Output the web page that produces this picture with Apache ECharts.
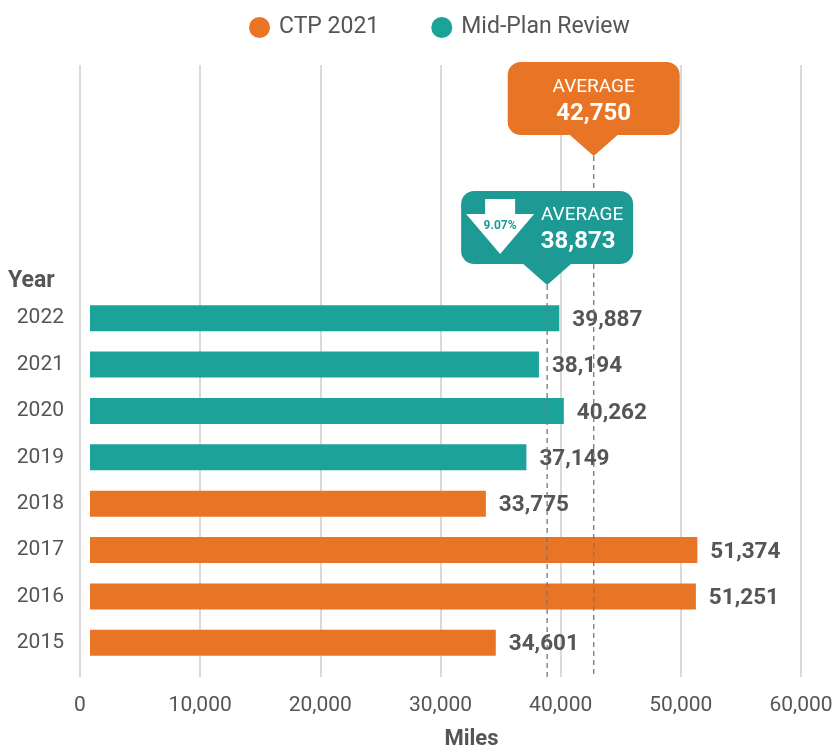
<!DOCTYPE html>
<html>
<head>
<meta charset="utf-8">
<script src="https://cdn.jsdelivr.net/npm/echarts@6/dist/echarts.min.js"></script>
<style>
  html, body { margin: 0; padding: 0; background: #fff; }
  #chart { width: 840px; height: 747px; }
</style>
</head>
<body>
<div id="chart"></div>
<script>
// Annual miles by year, split by plan source
const years = ['2015', '2016', '2017', '2018', '2019', '2020', '2021', '2022'];
const ctpYears = ['2015', '2016', '2017', '2018'];
const ctpValues = [34601, 51251, 51374, 33775];
const midYears = ['2019', '2020', '2021', '2022'];
const midValues = [37149, 40262, 38194, 39887];
const xTicks = { min: 0, max: 60000, interval: 10000 };

const ORANGE = '#E87425';
const TEAL = '#1BA39A';
const TEAL_DARK = '#1E9A95';
const GREY = '#555555';
const FONT = 'Roboto, "Noto Sans", sans-serif';

const mean = arr => arr.reduce((a, b) => a + b, 0) / arr.length;
const ctpAvg = Math.round(mean(ctpValues));
const midAvg = Math.round(mean(midValues));
const dropPct = ((ctpAvg - midAvg) / ctpAvg * 100).toFixed(2) + '%';
const fmt = v => v.toLocaleString('en-US');

// Bars start a little right of the zero line, ending at the value
function renderBar(params, api) {
  const val = api.value(0);
  const cat = api.value(1);
  const start = api.coord([0, cat]);
  const end = api.coord([val, cat]);
  const h = 26;
  const x0 = start[0] + 10;
  return {
    type: 'group',
    children: [
      {
        type: 'rect',
        shape: { x: x0, y: end[1] - h / 2, width: end[0] - x0, height: h },
        style: { fill: api.visual('color') }
      },
      {
        type: 'text',
        x: end[0] + 13,
        y: end[1] + 2,
        style: {
          text: fmt(val),
          fill: GREY,
          font: 'bold 22.5px ' + FONT,
          verticalAlign: 'middle',
          align: 'left'
        }
      }
    ]
  };
}

const chart = echarts.init(document.getElementById('chart'), null, { renderer: 'canvas' });

const option = {
  animation: false,
  backgroundColor: '#fff',
  textStyle: { fontFamily: FONT },
  legend: {
    top: 11,
    left: 244,
    itemWidth: 21,
    itemHeight: 21,
    itemGap: 52,
    icon: 'circle',
    textStyle: { fontSize: 23, color: GREY, fontFamily: FONT, padding: [0, 0, 0, 4] },
    data: ['CTP 2021', 'Mid-Plan Review']
  },
  grid: [
    { left: 80, right: 39, top: 65, bottom: 70, containLabel: false, outerBoundsMode: 'none' },
    { left: 80, right: 39, top: 295, bottom: 81, containLabel: false, outerBoundsMode: 'none' }
  ],
  xAxis: [
    {
      gridIndex: 0,
      type: 'value',
      min: xTicks.min, max: xTicks.max, interval: xTicks.interval,
      axisLine: { show: false },
      axisTick: { show: false },
      splitLine: { show: true, lineStyle: { color: '#DADADA', width: 2 } },
      axisLabel: {
        color: GREY, fontSize: 21, margin: 18, fontFamily: FONT,
        formatter: v => fmt(v)
      },
      name: 'Miles',
      nameLocation: 'middle',
      nameGap: 51,
      nameMoveOverlap: false,
      nameTextStyle: { color: GREY, fontSize: 22, fontWeight: 'bold', padding: [0, 0, 0, 62] }
    },
    {
      gridIndex: 1,
      type: 'value',
      min: xTicks.min, max: xTicks.max, interval: xTicks.interval,
      show: false
    }
  ],
  yAxis: [
    { gridIndex: 0, type: 'value', show: false, min: 0, max: 1 },
    {
      gridIndex: 1,
      type: 'category',
      data: years,
      axisLine: { show: false },
      axisTick: { show: false },
      axisLabel: { color: GREY, fontSize: 21, margin: 16, fontFamily: FONT },
      name: 'Year',
      nameLocation: 'end',
      nameGap: 0,
      nameMoveOverlap: false,
      nameTextStyle: {
        color: GREY, fontSize: 23, fontWeight: 'bold', align: 'left',
        padding: [0, 0, 2, -72]
      }
    }
  ],
  series: [
    {
      name: 'CTP 2021',
      type: 'custom',
      xAxisIndex: 1, yAxisIndex: 1,
      itemStyle: { color: ORANGE },
      encode: { x: 0, y: 1 },
      renderItem: renderBar,
      data: ctpValues.map((v, i) => [v, ctpYears[i]]),
      z: 2
    },
    {
      name: 'Mid-Plan Review',
      type: 'custom',
      xAxisIndex: 1, yAxisIndex: 1,
      itemStyle: { color: TEAL },
      encode: { x: 0, y: 1 },
      renderItem: renderBar,
      data: midValues.map((v, i) => [v, midYears[i]]),
      z: 2
    }
  ]
};

chart.setOption(option);

// Average lines with their callouts, placed through the value axis
const gridBottom = chart.convertToPixel({ yAxisIndex: 0 }, 0);
function callout(value, tipY, color, lines, extra) {
  const x = chart.convertToPixel({ xAxisIndex: 1 }, value);
  const boxW = 172, boxH = 73, gap = 21;
  const boxTop = tipY - gap - boxH;
  const items = [
    {
      type: 'line',
      shape: { x1: x, y1: tipY, x2: x, y2: gridBottom },
      style: { stroke: '#777', lineWidth: 1.3, lineDash: [5, 4] },
      z: 10
    },
    {
      type: 'rect',
      shape: { x: x - boxW / 2, y: boxTop, width: boxW, height: boxH, r: 13 },
      style: { fill: color },
      z: 11
    },
    {
      type: 'polygon',
      shape: { points: [[x - 25, boxTop + boxH - 1], [x + 25, boxTop + boxH - 1], [x, tipY]] },
      style: { fill: color },
      z: 11
    }
  ];
  lines(x, boxTop).forEach(t => items.push(t));
  if (extra) extra(x, boxTop).forEach(t => items.push(t));
  return items;
}

const ctpCallout = callout(ctpAvg, 156, ORANGE, (x, top) => [
  { type: 'text', x: x, y: top + 25, z: 12,
    style: { text: 'AVERAGE', fill: '#fff', font: '19px ' + FONT, align: 'center', verticalAlign: 'middle' } },
  { type: 'text', x: x, y: top + 52, z: 12,
    style: { text: fmt(ctpAvg), fill: '#fff', font: 'bold 24px ' + FONT, align: 'center', verticalAlign: 'middle' } }
]);

const midCallout = callout(midAvg, 285, TEAL_DARK, (x, top) => [
  { type: 'text', x: x + 35, y: top + 24, z: 12,
    style: { text: 'AVERAGE', fill: '#fff', font: '19px ' + FONT, align: 'center', verticalAlign: 'middle' } },
  { type: 'text', x: x + 31, y: top + 51, z: 12,
    style: { text: fmt(midAvg), fill: '#fff', font: 'bold 24px ' + FONT, align: 'center', verticalAlign: 'middle' } }
], (x, top) => {
  const ax = x - 47;
  return [
    { type: 'polygon', z: 12,
      shape: { points: [
        [ax - 15, top + 8], [ax + 15, top + 8], [ax + 15, top + 23],
        [ax + 34, top + 23], [ax, top + 63], [ax - 34, top + 23], [ax - 15, top + 23]
      ] },
      style: { fill: '#fff' } },
    { type: 'text', x: ax, y: top + 35, z: 13,
      style: { text: dropPct, fill: TEAL_DARK, font: 'bold 12px ' + FONT, align: 'center', verticalAlign: 'middle' } }
  ];
});

chart.setOption({ graphic: { elements: ctpCallout.concat(midCallout) } });
</script>
</body>
</html>
